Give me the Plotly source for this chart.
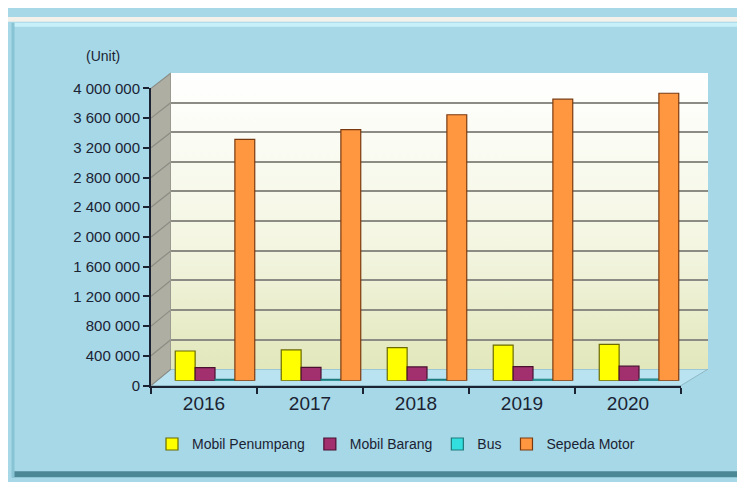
import plotly.graph_objects as go

# data
tahun = ["2016", "2017", "2018", "2019", "2020"]
mobil_penumpang = [400000, 415000, 445000, 480000, 490000]
mobil_barang = [175000, 180000, 185000, 190000, 195000]
bus = [18000, 18500, 19000, 19500, 20000]
sepeda_motor = [3250000, 3380000, 3580000, 3790000, 3870000]
y_ticks = [0, 400000, 800000, 1200000, 1600000, 2000000, 2400000, 2800000,
           3200000, 3600000, 4000000]

W, H = 745, 482
Y_MAX = 4000000


def px(x):
    # pixel -> paper fraction
    return x / W


def py(y):
    return 1 - y / H


# pixel boxes: front face, back wall, bars at mid depth
front = dict(x0=143, x1=673, y0=382, y1=74)
back = dict(x0=163, x1=700, y0=365, y1=58)
mid = dict(x0=154, x1=684, y0=377, y1=69)

txt = "#1b2333"
font = "Liberation Sans, Arial, sans-serif"

fig = go.Figure()

# back wall with gradient (x / y)
fig.add_trace(go.Scatter(
    x=[-0.5, 4.5, 4.5, -0.5, -0.5], y=[0, 0, Y_MAX, Y_MAX, 0],
    mode="lines", line=dict(width=0), fill="toself",
    fillgradient=dict(type="vertical", start=0, stop=Y_MAX,
                      colorscale=[[0, "#e0e6b8"], [0.45, "#f4f6e2"], [1, "#ffffff"]]),
    xaxis="x", yaxis="y", showlegend=False, hoverinfo="skip"))

# back wall grid (x2 / y2)
fig.add_trace(go.Scatter(x=[0], y=[0], mode="markers", marker=dict(opacity=0),
                         xaxis="x2", yaxis="y2", showlegend=False, hoverinfo="skip"))

# bars (x3 / y3)
series = [
    ("Mobil Penumpang", mobil_penumpang, "#ffff00", "#6b6b00"),
    ("Mobil Barang", mobil_barang, "#a3306e", "#4a1030"),
    ("Bus", bus, "#33dede", "#1e7a7a"),
    ("Sepeda Motor", sepeda_motor, "#ff9640", "#7a3a10"),
]
for name, vals, col, edge in series:
    fig.add_trace(go.Bar(x=tahun, y=vals, name=name, marker_color=col,
                         marker_line=dict(color=edge, width=1.2),
                         xaxis="x3", yaxis="y3"))

# front axes (x4 / y4)
fig.add_trace(go.Scatter(x=tahun, y=[0] * 5, mode="markers", marker=dict(opacity=0),
                         xaxis="x4", yaxis="y4", showlegend=False, hoverinfo="skip"))


def dom(b):
    return [px(b["x0"]), px(b["x1"])], [py(b["y0"]), py(b["y1"])]


bx, by = dom(back)
mx, my = dom(mid)
fx, fy = dom(front)

hidden = dict(visible=False, fixedrange=True)
fig.update_layout(
    width=W, height=H,
    margin=dict(l=0, r=0, t=0, b=0),
    paper_bgcolor="#a6d8e8",
    plot_bgcolor="rgba(0,0,0,0)",
    separators=". ",
    barmode="group", bargap=0.25, bargroupgap=0,
    font=dict(family=font, color=txt),
    xaxis=dict(domain=bx, range=[-0.5, 4.5], **hidden),
    yaxis=dict(domain=by, range=[0, Y_MAX], **hidden),
    xaxis2=dict(domain=bx, range=[-0.5, 4.5], anchor="y2", showticklabels=False,
                showgrid=False, zeroline=False, fixedrange=True),
    yaxis2=dict(domain=by, range=[0, Y_MAX], anchor="x2", tickvals=y_ticks,
                showticklabels=False, showgrid=True, gridcolor="#8c8c84",
                gridwidth=1.5, zeroline=False, showline=True,
                linecolor="#9a9a90", linewidth=1, fixedrange=True),
    xaxis3=dict(domain=mx, anchor="y3", type="category", **hidden),
    yaxis3=dict(domain=my, anchor="x3", range=[0, Y_MAX], **hidden),
    xaxis4=dict(domain=fx, anchor="y4", type="category", tickson="boundaries",
                showline=True, linecolor="#1b2333", linewidth=2,
                ticks="outside", ticklen=6, tickwidth=2, tickcolor="#1b2333",
                showgrid=False, tickfont=dict(size=19, color=txt), fixedrange=True,
                range=[-0.5, 4.5]),
    yaxis4=dict(domain=fy, anchor="x4", range=[0, Y_MAX], tickvals=y_ticks,
                tickformat=",d", showline=True, linecolor="#1b2333", linewidth=2,
                ticks="outside", ticklen=6, tickwidth=2, tickcolor="#1b2333",
                showgrid=False, zeroline=False, tickfont=dict(size=15, color=txt),
                fixedrange=True),
    legend=dict(orientation="h", x=px(388), xanchor="center", y=py(443), yanchor="middle",
                font=dict(size=14, color=txt), bgcolor="rgba(0,0,0,0)",
                itemwidth=30, tracegroupgap=0),
    showlegend=True,
)

# decorative side wall, floor and frame
shapes = []
shapes.append(dict(type="path", xref="paper", yref="paper", layer="below",
                   path=f"M {px(front['x0'])},{py(front['y0'])} L {px(back['x0'])},{py(back['y0'])} "
                        f"L {px(back['x0'])},{py(back['y1'])} L {px(front['x0'])},{py(front['y1'])} Z",
                   fillcolor="#aeaea2", line=dict(width=0)))
shapes.append(dict(type="path", xref="paper", yref="paper", layer="below",
                   path=f"M {px(front['x0'])},{py(front['y0'])} L {px(front['x1'])},{py(front['y0'])} "
                        f"L {px(back['x1'])},{py(back['y0'])} L {px(back['x0'])},{py(back['y0'])} Z",
                   fillcolor="#b9e3f1", line=dict(color="#8fb8c4", width=1)))
for v in y_ticks:
    yf = front["y0"] - (front["y0"] - front["y1"]) * v / Y_MAX
    yb = back["y0"] - (back["y0"] - back["y1"]) * v / Y_MAX
    shapes.append(dict(type="line", xref="paper", yref="paper", layer="below",
                       x0=px(front["x0"]), y0=py(yf), x1=px(back["x0"]), y1=py(yb),
                       line=dict(color="#8c8c84", width=1.2)))
# panel bevel
shapes.append(dict(type="rect", xref="paper", yref="paper", layer="below",
                   x0=0, y0=py(0), x1=1, y1=py(5), fillcolor="#f4f1ea", line=dict(width=0)))
shapes.append(dict(type="line", xref="paper", yref="paper", layer="below",
                   x0=px(6), y0=py(8), x1=px(739), y1=py(8), line=dict(color="#c8f0f8", width=4)))
shapes.append(dict(type="line", xref="paper", yref="paper", layer="below",
                   x0=px(4), y0=py(474), x1=px(741), y1=py(474), line=dict(color="#4c8796", width=6)))
shapes.append(dict(type="line", xref="paper", yref="paper", layer="below",
                   x0=px(740), y0=py(6), x1=px(740), y1=py(477), line=dict(color="#6ea6b6", width=4)))
shapes.append(dict(type="line", xref="paper", yref="paper", layer="below",
                   x0=px(5), y0=py(6), x1=px(5), y1=py(477), line=dict(color="#88c4d4", width=3)))
fig.update_layout(shapes=shapes)

fig.add_annotation(text="(Unit)", xref="paper", yref="paper", x=px(95), y=py(40),
                   xanchor="center", yanchor="middle",
                   showarrow=False, font=dict(size=14, color=txt))

fig.write_html("out.html")
